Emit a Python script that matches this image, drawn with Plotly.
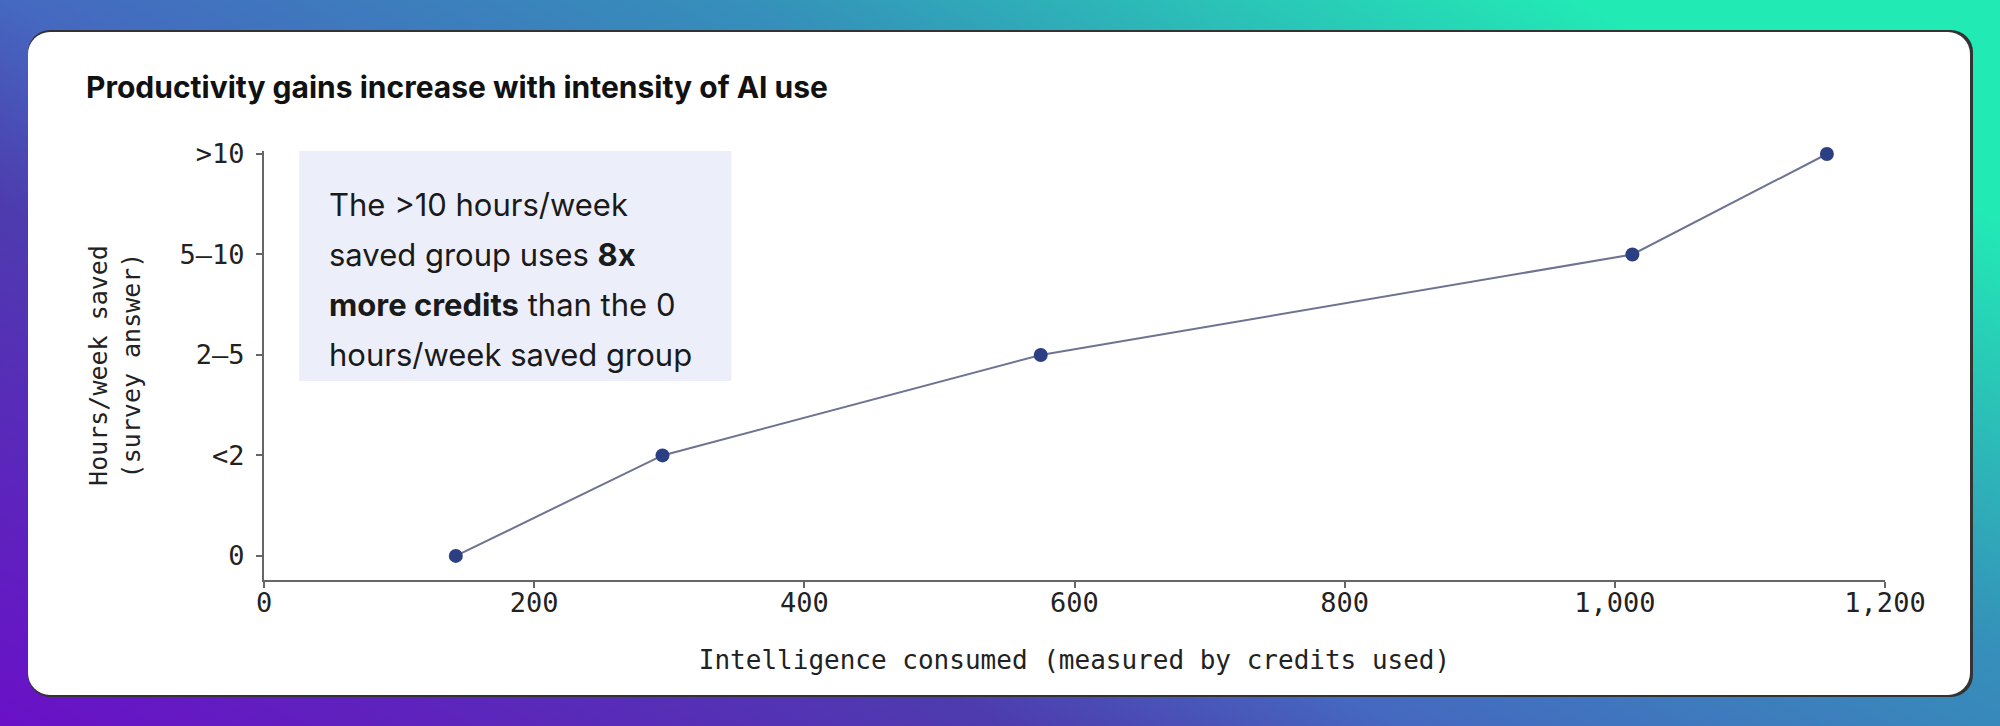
import base64
import plotly.graph_objects as go

W, H = 2000, 726

# data
credits_used = [142, 295, 575, 1013, 1157]
hours_saved = ["0", "<2", "2–5", "5–10", ">10"]

x_ticks = [0, 200, 400, 600, 800, 1000, 1200]

title_text = "Productivity gains increase with intensity of AI use"
x_title = "Intelligence consumed (measured by credits used)"
y_title = "Hours/week saved<br>(survey answer)"
note_lines = [
    "The >10 hours/week",
    "saved group uses <b>8x</b>",
    "<b>more credits</b> than the 0",
    "hours/week saved group",
]

MONO = "DejaVu Sans Mono"
SANS = "Inter"

# plot area margins (px)
ML, MR, MT, MB = 264, 115, 151, 146

# gradient backdrop + white card, as an svg image behind everything
svg = f"""<svg xmlns="http://www.w3.org/2000/svg" width="{W}" height="{H}" viewBox="0 0 {W} {H}">
<defs>
<linearGradient id="bg" x1="0" y1="1" x2="1" y2="0.3">
<stop offset="0" stop-color="#6a10c8"/>
<stop offset="0.34" stop-color="#4d3cae"/>
<stop offset="0.47" stop-color="#4568c0"/>
<stop offset="0.72" stop-color="#3590ba"/>
<stop offset="1" stop-color="#22eab5"/>
</linearGradient>
</defs>
<rect x="0" y="0" width="{W}" height="{H}" fill="url(#bg)"/>
<rect x="28" y="30" width="1945" height="667" rx="22" ry="22" fill="#333333"/>
<rect x="28" y="32" width="1942" height="663" rx="22" ry="22" fill="#ffffff"/>
</svg>"""
svg_uri = "data:image/svg+xml;base64," + base64.b64encode(svg.encode()).decode()

pw = W - ML - MR
ph = H - MT - MB

fig = go.Figure()

fig.add_trace(go.Scatter(
    x=credits_used,
    y=hours_saved,
    mode="lines+markers",
    line=dict(color="#6e7391", width=2),
    marker=dict(color="#2b3f82", size=14),
    cliponaxis=False,
    showlegend=False,
    hoverinfo="skip",
))

# callout box
fig.add_shape(
    type="rect", xref="x", yref="y",
    x0=26, x1=346, y0=1.74, y1=4.05,
    fillcolor="#eceffa", line=dict(width=0), layer="below",
)
for i, line in enumerate(note_lines):
    fig.add_annotation(
        x=47, y=3.5 - 0.5 * i, xref="x", yref="y",
        text=line, showarrow=False, xanchor="left", yanchor="middle",
        font=dict(family=SANS, size=31, color="#1a1a1a"),
    )

fig.update_layout(
    width=W, height=H,
    margin=dict(l=ML, r=MR, t=MT, b=MB),
    paper_bgcolor="rgba(0,0,0,0)",
    plot_bgcolor="rgba(0,0,0,0)",
    title=dict(
        text=f"<b>{title_text}</b>",
        x=86 / W, xref="container", xanchor="left",
        y=1 - 87 / H, yref="container", yanchor="middle",
        font=dict(family=SANS, size=30, color="#111111"),
    ),
    images=[dict(
        source=svg_uri, xref="paper", yref="paper",
        x=-ML / pw, y=1 + MT / ph, sizex=W / pw, sizey=H / ph,
        xanchor="left", yanchor="top", sizing="stretch", layer="below",
    )],
)

fig.update_xaxes(
    range=[0, 1200], tickvals=x_ticks, tickformat=",",
    showgrid=False, zeroline=False,
    showline=True, linecolor="#666666", linewidth=2,
    ticks="outside", ticklen=6, tickcolor="#666666", tickwidth=1.5,
    ticklabelstandoff=-8,
    tickfont=dict(family=MONO, size=27, color="#222222"),
    title=dict(text=x_title, standoff=33,
               font=dict(family=MONO, size=26, color="#222222")),
)
fig.update_yaxes(
    type="category", categoryorder="array", categoryarray=hours_saved,
    range=[-0.24, 4.03],
    showgrid=False, zeroline=False,
    showline=True, linecolor="#666666", linewidth=2,
    ticks="outside", ticklen=6, tickcolor="#666666", tickwidth=1.5,
    ticklabelstandoff=6,
    tickfont=dict(family=MONO, size=27, color="#222222"),
    title=dict(text=y_title, standoff=32,
               font=dict(family=MONO, size=25, color="#222222")),
)

fig.write_html(
    "out.html",
    config={"displayModeBar": False},
    post_script="document.body.style.margin='0';document.body.style.overflow='hidden';",
)
